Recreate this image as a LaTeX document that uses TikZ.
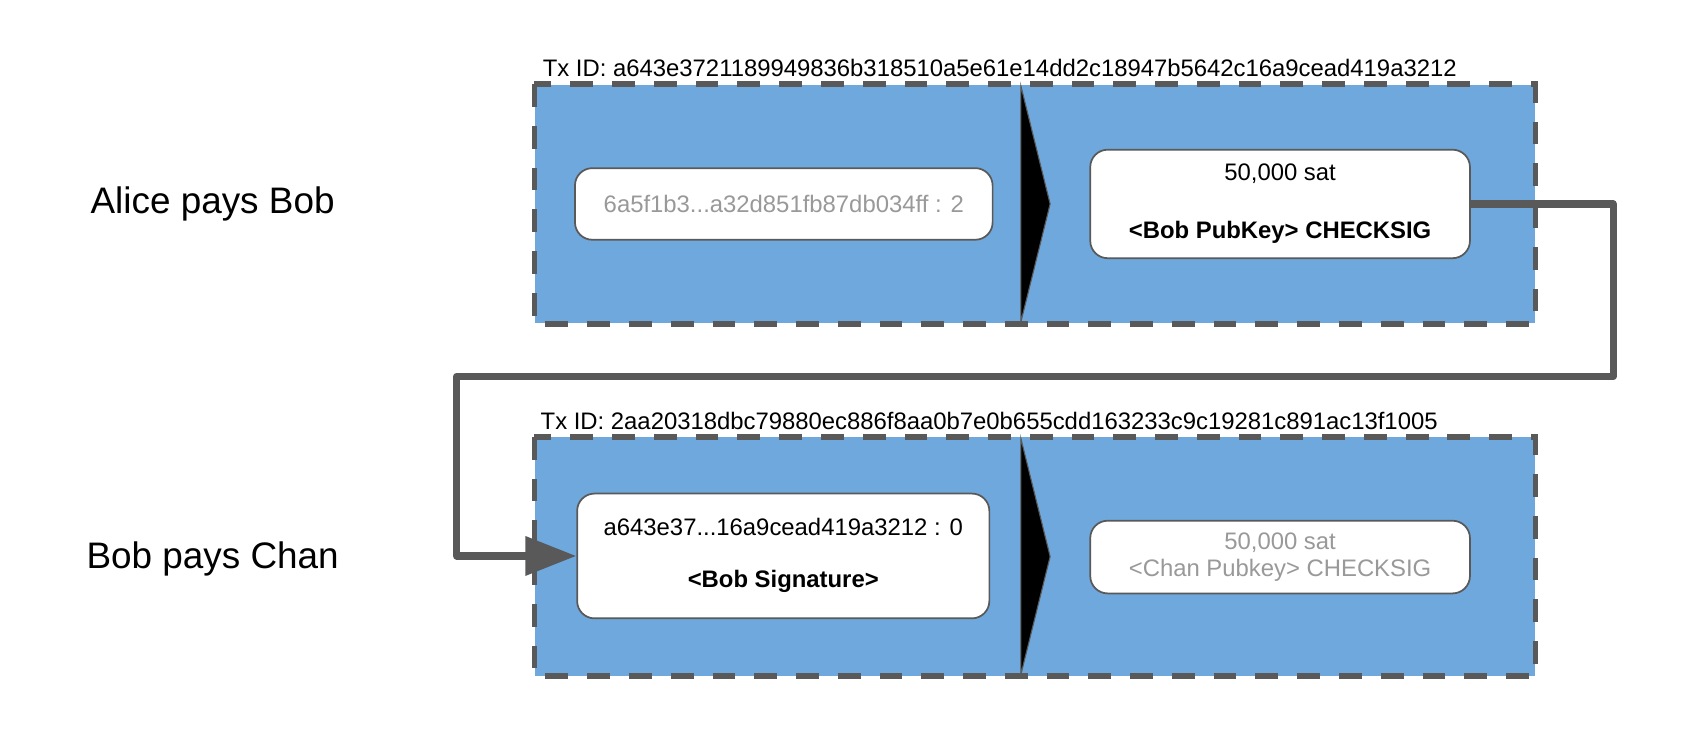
\documentclass[tikz,border=0pt]{standalone}
\usepackage{fontspec}
\setmainfont{Liberation Sans}
\usetikzlibrary{arrows.meta}
\definecolor{txblue}{HTML}{6FA8DC}
\definecolor{dgray}{HTML}{595959}
\definecolor{ltext}{HTML}{999999}
\tikzset{
  txfill/.style={fill=txblue, draw=none, minimum width=461pt, minimum height=110pt, inner sep=0pt},
  txborder/.style={draw=dgray, line width=2.6pt, dash pattern=on 10.5pt off 8.75pt},
  chevron/.style={fill=black, draw=dgray, line width=0.5pt},
  ibox/.style={fill=white, draw=dgray, line width=0.8pt, rounded corners=8pt, inner sep=0pt, align=center, font=\fontsize{11}{12.5}\selectfont},
  txid/.style={anchor=base west, inner sep=0pt, font=\fontsize{11}{13}\selectfont},
  sidelabel/.style={font=\fontsize{17}{20}\selectfont, inner sep=0pt},
  conn/.style={draw=dgray, line width=3.3pt, line join=round, -{Triangle[length=23.5pt,width=17.5pt]}}
}
\begin{document}
\begin{tikzpicture}[x=0.5pt,y=-0.5pt]
\useasboundingbox (0,0) rectangle (1568,685);
% transaction 1
\node[txfill] (tx1) at (954,188) {};
\fill[chevron] (941,79) -- (968,188) -- (941,297) -- cycle;
\draw[txborder] (tx1.north west) rectangle (tx1.south east);
\node[txid] (id1) at (500,70.7) {Tx ID: a643e3721189949836b318510a5e61e14dd2c18947b5642c16a9cead419a3212};
\node[ibox, minimum width=192.5pt, minimum height=33pt, text=ltext] (in1) at (722.5,188) {6a5f1b3...a32d851fb87db034ff : 2};
\node[ibox, minimum width=175pt, minimum height=50pt] (out1) at (1180,188) {\raisebox{-1.5pt}{\begin{tabular}{@{}c@{}}50,000 sat\\[14pt]\textbf{<Bob PubKey> CHECKSIG}\end{tabular}}};
% transaction 2
\node[txfill] (tx2) at (954,513) {};
\fill[chevron] (941,404) -- (968,513) -- (941,622) -- cycle;
\draw[txborder] (tx2.north west) rectangle (tx2.south east);
\node[txid] (id2) at (498,395.7) {Tx ID: 2aa20318dbc79880ec886f8aa0b7e0b655cdd163233c9c19281c891ac13f1005};
\node[ibox, minimum width=190pt, minimum height=57.5pt] (in2) at (722,512.5) {\raisebox{-0.8pt}{\begin{tabular}{@{}c@{}}a643e37...16a9cead419a3212 : 0\\[11.5pt]\textbf{<Bob Signature>}\end{tabular}}};
\node[ibox, minimum width=175pt, minimum height=33.5pt, text=ltext] (out2) at (1180,513.5) {50,000 sat\\<Chan Pubkey> CHECKSIG};
% labels
\node[sidelabel] (l1) at (196,188) {Alice pays Bob};
\node[sidelabel] (l2) at (196,515) {Bob pays Chan};
% connector
\coordinate (c1) at (1487,347);
\coordinate (c2) at (421,347);
\draw[conn] (out1.east) -| (c1) -- (c2) |- (in2.west);
\end{tikzpicture}
\end{document}
